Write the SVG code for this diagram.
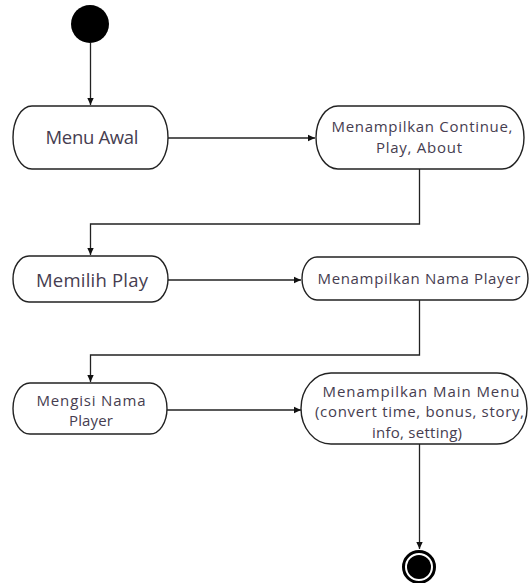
<svg xmlns="http://www.w3.org/2000/svg" width="529" height="583" viewBox="0 0 529 583">
<defs>
<marker id="arr" markerWidth="8" markerHeight="8" refX="7" refY="4" orient="auto" markerUnits="userSpaceOnUse">
<path d="M0,0.8 L7,4 L0,7.2 Z" fill="#111"/>
</marker>
<style>
.node{fill:#fff;stroke:#222;stroke-width:1.4}
.t{font-family:"Open Sans","Noto Sans","DejaVu Sans",sans-serif;fill:#463d50;text-anchor:middle}
.big{font-size:18.5px}
.sm{font-size:15px}
.c{fill:none;stroke:#222;stroke-width:1.3}
</style>
</defs>
<rect width="529" height="583" fill="#fff"/>
<g id="connectors">
<path class="c" d="M90.5,43 V105" marker-end="url(#arr)"/>
<path class="c" d="M168,138 H315" marker-end="url(#arr)"/>
<path class="c" d="M419.5,169 V224 H90.5 V255" marker-end="url(#arr)"/>
<path class="c" d="M168,280 H301" marker-end="url(#arr)"/>
<path class="c" d="M419.5,300 V355 H90.5 V382" marker-end="url(#arr)"/>
<path class="c" d="M167,410 H301" marker-end="url(#arr)"/>
<path class="c" d="M419.5,444 V549" marker-end="url(#arr)"/>
</g>
<g id="start">
<circle cx="90" cy="24" r="19" fill="#000"/>
</g>
<g id="menu-awal">
<rect class="node" x="13" y="106" width="155" height="63" rx="19" ry="31.5"/>
<text class="t big" x="92" y="144" textLength="93">Menu Awal</text>
</g>
<g id="tampil-continue">
<rect class="node" x="316" y="106" width="208" height="63" rx="22" ry="31.5"/>
<text class="t sm" x="422" y="131.5" textLength="181">Menampilkan Continue,</text>
<text class="t sm" x="419" y="152.5" textLength="86">Play, About</text>
</g>
<g id="memilih-play">
<rect class="node" x="13" y="256" width="155" height="46" rx="16" ry="23"/>
<text class="t big" x="92" y="287" textLength="112">Memilih Play</text>
</g>
<g id="tampil-nama">
<rect class="node" x="302" y="257" width="226" height="43" rx="15" ry="21.5"/>
<text class="t sm" x="419" y="284" textLength="203">Menampilkan Nama Player</text>
</g>
<g id="mengisi-nama">
<rect class="node" x="13" y="383" width="154" height="51" rx="17" ry="25.5"/>
<text class="t sm" x="91" y="405.5" textLength="109">Mengisi Nama</text>
<text class="t sm" x="91" y="426" textLength="44">Player</text>
</g>
<g id="tampil-main">
<rect class="node" x="301" y="373" width="226" height="71" rx="30" ry="35.5"/>
<text class="t sm" x="421" y="396.5" textLength="197">Menampilkan Main Menu</text>
<text class="t sm" x="419.5" y="417" textLength="209">(convert time, bonus, story,</text>
<text class="t sm" x="417" y="437.5" textLength="90">info, setting)</text>
</g>
<g id="end">
<circle cx="419" cy="567" r="15.5" fill="none" stroke="#000" stroke-width="3"/>
<circle cx="419" cy="567" r="12" fill="#000"/>
</g>
</svg>
